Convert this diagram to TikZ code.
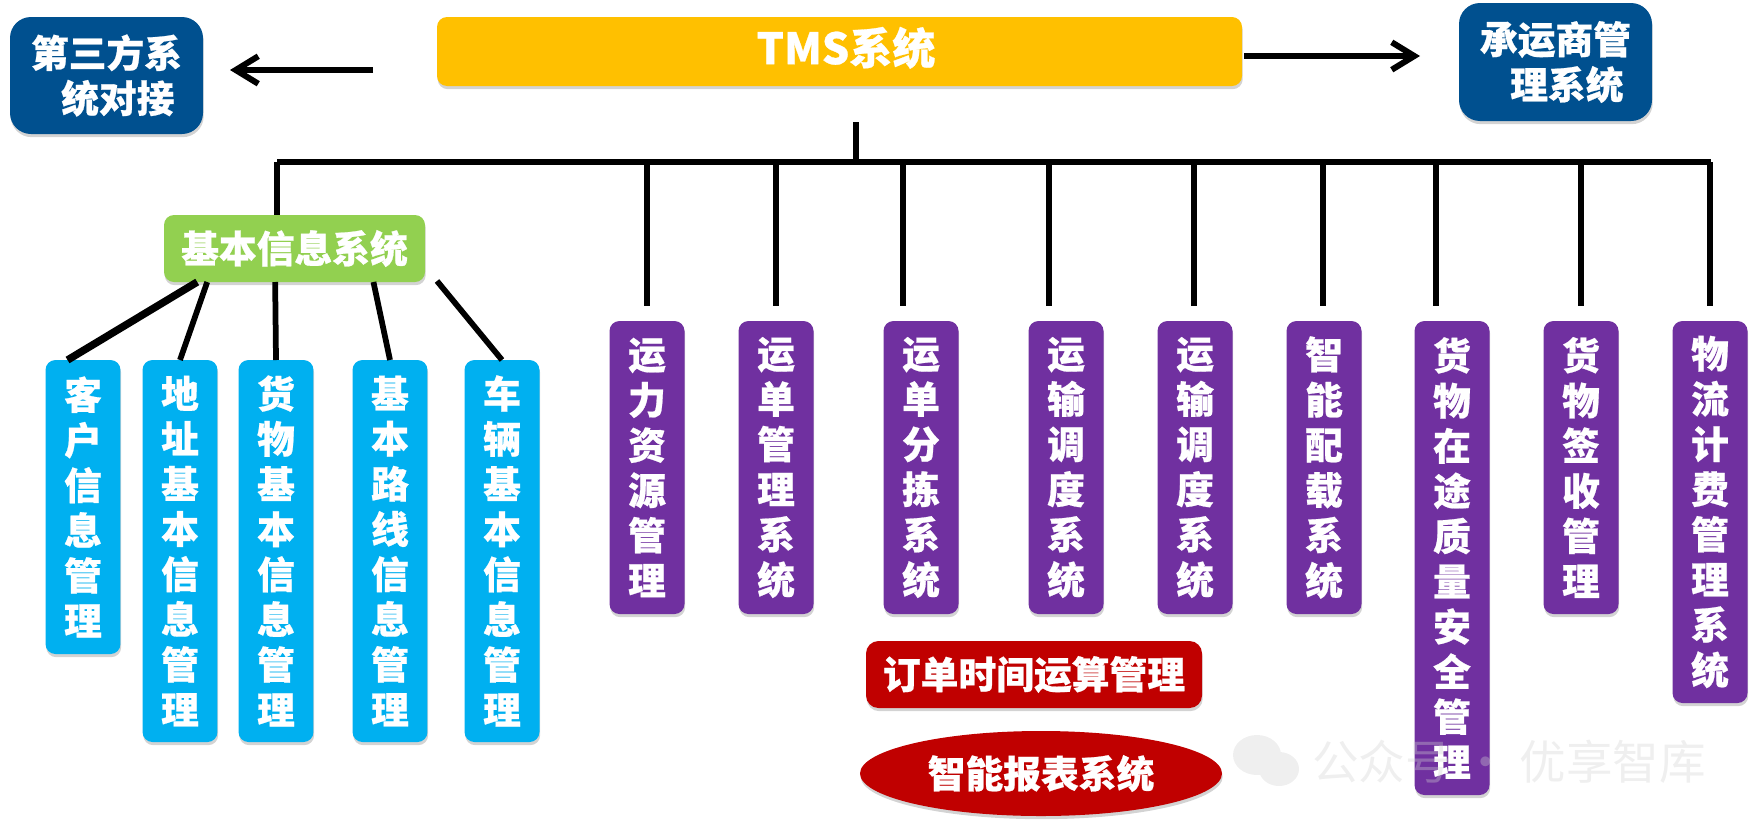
\documentclass[tikz,border=0pt]{standalone}
\usepackage{fontspec}
\newfontfamily\cjk[BoldFeatures={FakeBold=0.6}]{Noto Sans CJK SC}
\usetikzlibrary{arrows.meta,calc,shapes.geometric,shadows}
\definecolor{cdark}{HTML}{00508F}
\definecolor{ctop}{HTML}{FFC000}
\definecolor{cbase}{HTML}{92D050}
\definecolor{cinfo}{HTML}{00B0F0}
\definecolor{csys}{HTML}{7030A0}
\definecolor{cred}{HTML}{C00000}
\def\px{0.02cm}

\begin{document}
\begin{tikzpicture}[
  x=0.02cm, y=-0.02cm,
  box/.style={rounded corners=0.2cm, outer sep=0pt, inner sep=0pt, align=center, text=white,
    font=\cjk\bfseries\fontsize{21.5}{25.7}\selectfont,
    drop shadow={shadow xshift=0.4pt, shadow yshift=-1.8pt, opacity=0.35}},
  link/.style={line width=0.115cm},
  arrow/.style={-{Straight Barb[length=4.5mm,width=5.5mm,line width=0.12cm]}, line width=0.13cm}
]
\useasboundingbox (0,0) rectangle (1760,832);
% top row
\node[box, fill=ctop, minimum width=805*\px, minimum height=69*\px, font=\cjk\bfseries\fontsize{24.5}{28}\selectfont] (tms) at (839.5,51.5) {\raisebox{0.24cm}{\hspace*{0.3em}TMS系统}};
\node[box, fill=cdark, rounded corners=0.42cm, minimum width=193*\px, minimum height=117*\px] (third) at (106.5,75.5) {第三方系\\\hspace*{.6em}统对接};
\node[box, fill=cdark, rounded corners=0.42cm, minimum width=193*\px, minimum height=118*\px] (carrier) at (1555.5,62) {承运商管\\\hspace*{.6em}理系统};
\coordinate (tmsl) at (373,70);
\coordinate (thirdr) at (230,70);
\coordinate (tmsr) at (1244,56);
\coordinate (carrierl) at (1420,56);
\draw[arrow] (tmsl) -- (thirdr);
\draw[arrow] (tmsr) -- (carrierl);

% bus
\coordinate (stem) at (856,122);
\coordinate (busl) at (277,162);
\coordinate (busr) at (1711,162);
\draw[link] (busl) -- (busr);
\draw[link] (stem) -- (stem |- busl);

% basic info
\node[box, fill=cbase, minimum width=261*\px, minimum height=67*\px] (basic) at (294.5,248.5) {基本信息系统};
\draw[link] (busl) -- (busl |- basic.north);
\foreach \i/\x/\h/\t in {
  1/83/294/{客\\户\\信\\息\\管\\理},
  2/180/382/{地\\址\\基\\本\\信\\息\\管\\理},
  3/276/382/{货\\物\\基\\本\\信\\息\\管\\理},
  4/390/382/{基\\本\\路\\线\\信\\息\\管\\理},
  5/502/382/{车\\辆\\基\\本\\信\\息\\管\\理}}
  \node[box, fill=cinfo, minimum width=1.5cm, minimum height=\h*\px] (info\i) at (\x,360+\h/2) {\t};
\coordinate (basicr) at (437,281);
\foreach \a/\b/\w in {basic.199/info1.96/0.15cm, basic.201.7/info2.north/0.115cm, basic.240/info3.north/0.115cm, basic.337/info4.north/0.115cm, basicr/info5.north/0.115cm}
  \draw[link, line width=\w] (\a) -- (\b);

% systems
\foreach \i/\x/\lx/\h/\t in {
  1/647/647/293/{运\\力\\资\\源\\管\\理},
  2/776/776/293/{运\\单\\管\\理\\系\\统},
  3/921/903/293/{运\\单\\分\\拣\\系\\统},
  4/1066/1049/293/{运\\输\\调\\度\\系\\统},
  5/1195/1194/293/{运\\输\\调\\度\\系\\统},
  6/1324/1323/293/{智\\能\\配\\载\\系\\统},
  7/1452/1436/474/{货\\物\\在\\途\\质\\量\\安\\全\\管\\理},
  8/1581/1581/293/{货\\物\\签\\收\\管\\理},
  9/1710/1710/382/{物\\流\\计\\费\\管\\理\\系\\统}}
{
  \node[box, fill=csys, minimum width=1.5cm, minimum height=\h*\px] (sys\i) at (\x,321+\h/2) {\t};
  \coordinate (bus\i) at (\lx,162);
  \draw[link, shorten >=0.3cm] (bus\i) -- (bus\i |- sys\i.north);
}

% bottom
\node[box, fill=cred, rounded corners=0.25cm, minimum width=336*\px, minimum height=67*\px] (order) at (1034,674.5) {订单时间运算管理};
\node[box, ellipse, fill=cred, minimum width=362*\px, minimum height=85*\px] (report) at (1041,773.5) {智能报表系统};

% watermark
\fill[black!18, opacity=0.35] (1257,755) ellipse (24 and 20) (1279,769) ellipse (20 and 17);
\node[text=black!18, text opacity=0.35, font=\cjk\fontsize{26.5}{30}\selectfont, inner sep=0pt] (mark) at (1509,762) {公众号 · 优享智库};
\end{tikzpicture}
\end{document}
